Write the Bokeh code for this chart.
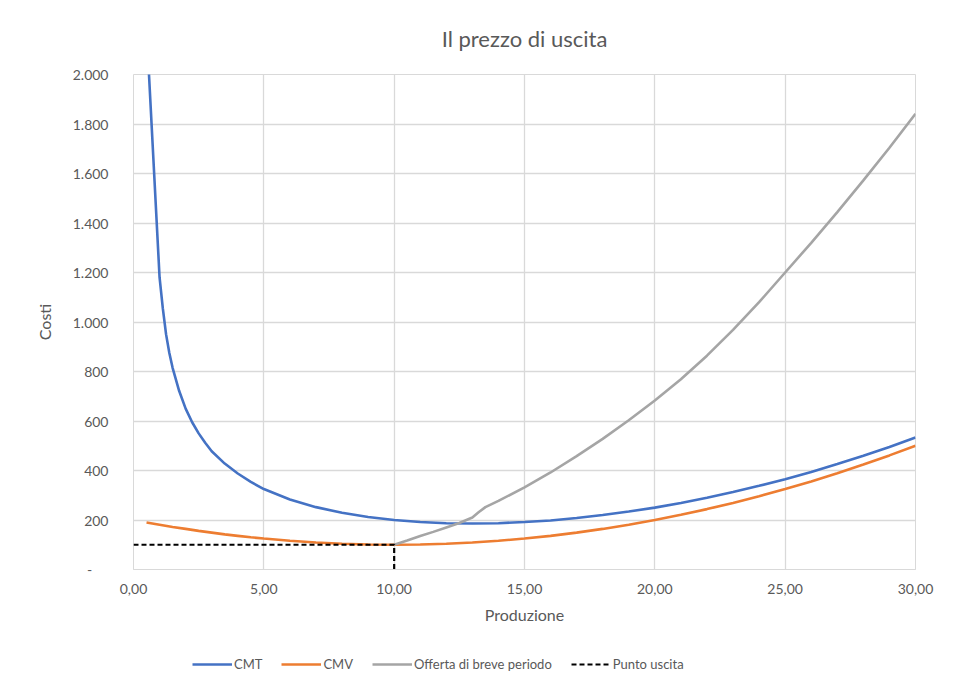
from bokeh.plotting import figure
from bokeh.layouts import column
from bokeh.models import Range1d, CustomJSTickFormatter, FixedTicker, Legend, LegendItem, Title
from bokeh.embed import file_html
from bokeh.resources import INLINE

# ---- data ----
cmt_x = [0.5, 1.0, 1.125, 1.25, 1.375, 1.5, 1.75, 2.0, 2.25, 2.5, 2.75, 3.0, 3.5, 4.0, 4.5, 5, 6, 7, 8, 9, 10, 11, 12, 13,
         14, 15, 16, 17, 18, 19, 20, 21, 22, 23, 24, 25, 26, 27, 28, 29, 30]
cmt_y = [2190, 1180, 1055, 950, 875, 815, 722, 650, 595, 550, 512, 478, 428, 388, 354, 325, 283, 252, 229, 212, 200, 192, 187, 186,
         187, 192, 198, 208, 220, 234, 250, 269, 290, 313, 338, 365, 394, 426, 460, 495, 533]

cmv_x = [0.5, 1.0, 1.5, 2.0, 2.5, 3.0, 3.5, 4.0, 4.5, 5, 6, 7, 8, 9, 10, 11, 12, 13, 14, 15,
         16, 17, 18, 19, 20, 21, 22, 23, 24, 25, 26, 27, 28, 29, 30]
cmv_y = [190, 181, 172, 164, 156, 149, 142, 136, 130, 125, 116, 109, 104, 101, 100, 101, 104, 109, 116, 125,
         136, 149, 164, 181, 200, 221, 244, 269, 296, 325, 356, 389, 424, 461, 500]

off_x = [10, 10.5, 11, 11.5, 12, 12.5, 13, 13.25, 13.5, 14, 15, 16, 17, 18, 19, 20, 21, 22, 23, 24, 25,
         26, 27, 28, 29, 30]
off_y = [100, 117, 135, 152, 170, 188, 210, 232, 252, 277, 332, 392, 458, 528, 603, 683, 769, 864, 968, 1080, 1200,
         1320, 1444, 1572, 1704, 1841]

exit_x = [0, 10, 10]
exit_y = [100, 100, 0]

x_ticks = [0, 5, 10, 15, 20, 25, 30]
y_ticks = [0, 200, 400, 600, 800, 1000, 1200, 1400, 1600, 1800, 2000]

series_names = ["CMT", "CMV", "Offerta di breve periodo", "Punto uscita"]

TXT = "#595959"
GRID = "#d9d9d9"
FONT = "Lato"
COLORS = ["#4472C4", "#ED7D31", "#A5A5A5", "black"]
WIDTHS = [2.6, 2.6, 2.6, 2.2]
DASHES = ["solid", "solid", "solid", "5 3"]

p = figure(width=951, height=629, x_range=Range1d(0, 30), y_range=Range1d(0, 2000),
           output_backend="svg", toolbar_location=None,
           min_border_left=133, min_border_right=36, min_border_top=74, min_border_bottom=60)

p.title = Title(text="Il prezzo di uscita", align="center", text_font=FONT,
                text_font_size="22px", text_font_style="normal", text_color=TXT, standoff=45)

data = [(cmt_x, cmt_y), (cmv_x, cmv_y), (off_x, off_y), (exit_x, exit_y)]
for (xs, ys), c, w, d in zip(data, COLORS, WIDTHS, DASHES):
    p.line(xs, ys, line_color=c, line_width=w, line_dash=d)

p.xaxis.ticker = FixedTicker(ticks=x_ticks)
p.yaxis.ticker = FixedTicker(ticks=y_ticks)
p.xaxis.formatter = CustomJSTickFormatter(code="return tick.toFixed(2).replace('.', ',');")
p.yaxis.formatter = CustomJSTickFormatter(code="""
if (tick == 0) { return '-\u2007\u2007'; }
var s = Math.round(tick).toString();
return s.replace(/\\B(?=(\\d{3})+(?!\\d))/g, '.');
""")

for ax in (p.xaxis[0], p.yaxis[0]):
    ax.major_tick_line_color = None
    ax.minor_tick_line_color = None
    ax.major_tick_out = 0
    ax.major_tick_in = 0
    ax.major_label_text_font = FONT
    ax.major_label_text_font_size = "14px"
    ax.major_label_text_color = TXT
    ax.axis_label_text_font = FONT
    ax.axis_label_text_font_size = "16px"
    ax.axis_label_text_font_style = "normal"
    ax.axis_label_text_color = TXT

p.xaxis.axis_label = "Produzione"
p.yaxis.axis_label = "Costi"
p.xaxis.axis_line_color = GRID
p.yaxis.axis_line_color = None
p.xaxis.major_label_standoff = 14
p.yaxis.major_label_standoff = 25
p.xaxis.axis_label_standoff = 8
p.yaxis.axis_label_standoff = 16

p.xgrid.grid_line_color = GRID
p.ygrid.grid_line_color = GRID
p.xgrid.grid_line_width = 1.3
p.ygrid.grid_line_width = 1.3
p.outline_line_color = GRID

# legend strip below the chart (its frame is aligned with the chart's frame)
pl = figure(width=951, height=48, x_range=Range1d(0, 1), y_range=Range1d(0, 1),
            output_backend="svg", toolbar_location=None, x_axis_type=None, y_axis_type=None,
            min_border_left=133, min_border_right=36, min_border_top=0, min_border_bottom=0)
pl.grid.visible = False
pl.outline_line_color = None
items = []
for name, (xs, ys), c, w, d in zip(series_names, data, COLORS, WIDTHS, DASHES):
    # same series; its data lies outside this strip's ranges, so only the legend glyph shows
    r = pl.line(xs, ys, line_color=c, line_width=w, line_dash=d)
    items.append(LegendItem(label=name, renderers=[r]))
legend = Legend(items=items, orientation="horizontal", location=(59, 5),
                glyph_width=40, glyph_height=16, label_standoff=2, spacing=19,
                padding=0, margin=0,
                label_text_font=FONT, label_text_font_size="13px", label_text_color=TXT,
                border_line_color=None, background_fill_alpha=0)
pl.add_layout(legend)

layout = column(p, pl, spacing=0)
open("out.html", "w").write(file_html(layout, INLINE))
